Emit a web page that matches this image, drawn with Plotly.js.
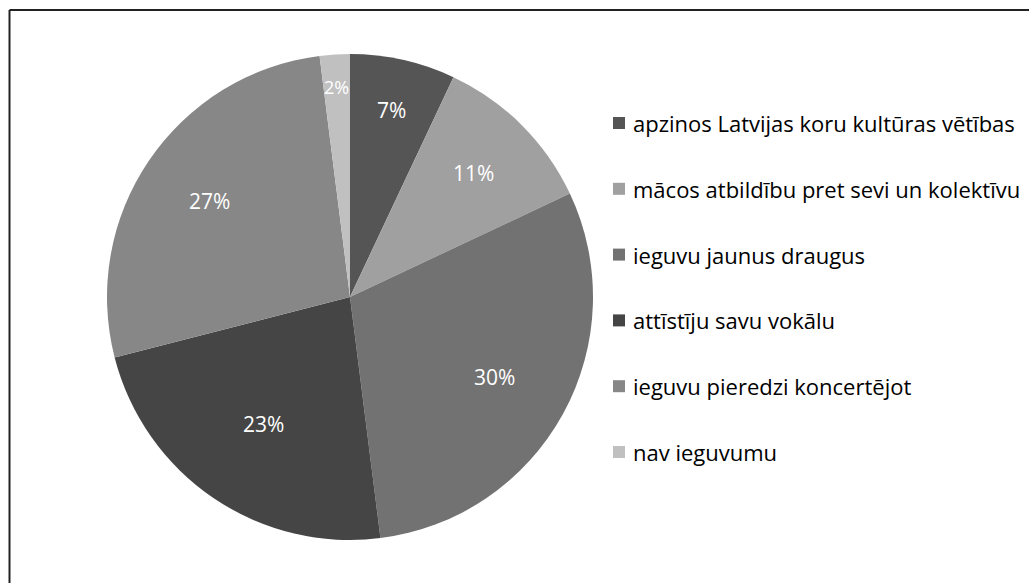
<!DOCTYPE html>
<html>
<head>
<meta charset="utf-8">
<script src="https://cdn.plot.ly/plotly-3.0.1.min.js"></script>
<style>
html,body{margin:0;padding:0;background:#fff;}
#chart{width:1029px;height:583px;}
</style>
</head>
<body>
<div id="chart"></div>
<script>
const labels = [
  "apzinos Latvijas koru kultūras vētības",
  "mācos atbildību pret sevi un kolektīvu",
  "ieguvu jaunus draugus",
  "attīstīju savu vokālu",
  "ieguvu pieredzi koncertējot",
  "nav ieguvumu"
];
const values = [7, 11, 30, 23, 27, 2];
const colors = ["#555555", "#a0a0a0", "#727272", "#454545", "#878787", "#c0c0c0"];
// radial position of each percentage label, as a fraction of the radius (style)
const labelRadius = [0.79, 0.72, 0.68, 0.63, 0.70, 0.865];

const W = 1029, H = 583;
const cx = 350, cy = 297, r = 243;
const LEGFONT = "'Open Sans', 'Noto Sans', sans-serif";
const PCTFONT = "'Open Sans', 'Noto Sans', sans-serif";

const trace = {
  type: "pie",
  labels: labels,
  values: values,
  sort: false,
  direction: "clockwise",
  rotation: 0,
  marker: {colors: colors, line: {width: 0}},
  textinfo: "none",
  hoverinfo: "label+percent",
  showlegend: false,
  domain: {
    x: [(cx - r) / W, (cx + r) / W],
    y: [(H - cy - r) / H, (H - cy + r) / H]
  }
};

const shapes = [
  {type: "line", xref: "paper", yref: "paper", x0: 9.5 / W, x1: 9.5 / W, y0: 0, y1: 1 - 10 / H, line: {color: "#222", width: 2}},
  {type: "line", xref: "paper", yref: "paper", x0: 9.5 / W, x1: 1, y0: 1 - 10 / H, y1: 1 - 10 / H, line: {color: "#222", width: 2}}
];
const annotations = [];

// percentage labels placed at each slice's mid-angle (derived from values)
const total = values.reduce((a, b) => a + b, 0);
let cum = 0;
values.forEach((v, i) => {
  const mid = (cum + v / 2) / total * 2 * Math.PI;
  cum += v;
  const px = cx + labelRadius[i] * r * Math.sin(mid);
  const py = cy - labelRadius[i] * r * Math.cos(mid);
  annotations.push({
    xref: "paper", yref: "paper",
    x: px / W, y: 1 - py / H,
    xanchor: "center", yanchor: "middle",
    text: Math.round(v / total * 100) + "%",
    showarrow: false,
    font: {family: PCTFONT, size: i === 5 ? 18 : 21, color: "#ffffff"}
  });
});

const legX = 613, legY0 = 123, legGap = 65.8, sq = 12;
labels.forEach((lab, i) => {
  const yc = legY0 + i * legGap;
  shapes.push({
    type: "rect", xref: "paper", yref: "paper",
    x0: legX / W, x1: (legX + sq) / W,
    y0: 1 - (yc + sq / 2) / H, y1: 1 - (yc - sq / 2) / H,
    fillcolor: colors[i], line: {width: 0}
  });
  annotations.push({
    xref: "paper", yref: "paper",
    x: 631 / W, y: 1 - yc / H,
    xanchor: "left", yanchor: "middle",
    text: lab, showarrow: false,
    font: {family: LEGFONT, size: 22, color: "#000000"}
  });
});

const layout = {
  width: W, height: H,
  margin: {l: 0, r: 0, t: 0, b: 0},
  paper_bgcolor: "#ffffff",
  showlegend: false,
  shapes: shapes,
  annotations: annotations
};

Plotly.newPlot("chart", [trace], layout, {displayModeBar: false, staticPlot: true});
</script>
</body>
</html>
